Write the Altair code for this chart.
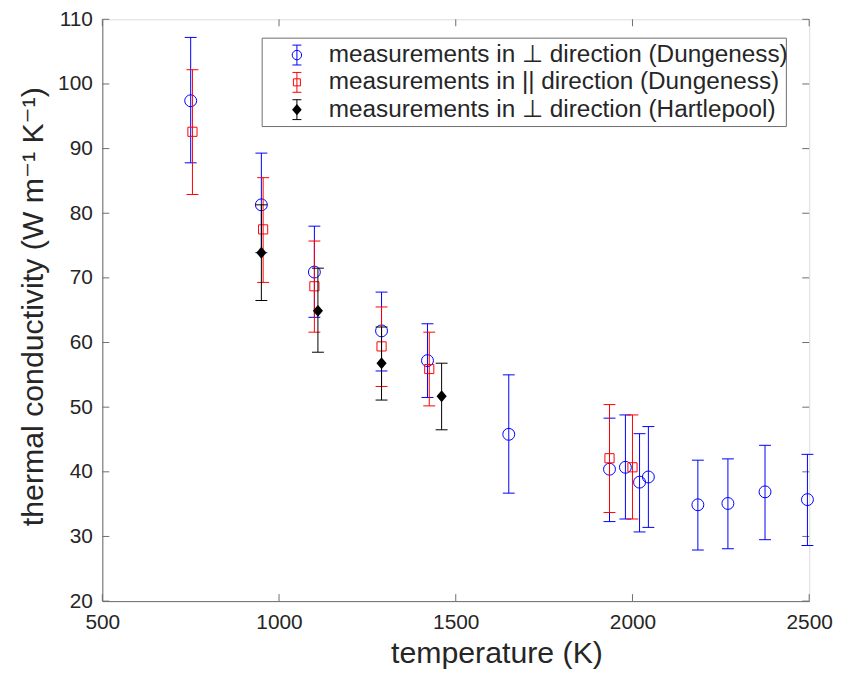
import altair as alt
import pandas as pd

# ---- data ----
# measurements in ⊥ direction (Dungeness)
t_perp_d = [750, 950, 1100, 1290, 1420, 1650, 1935, 1980, 2020, 2045, 2185, 2270, 2375, 2495]
k_perp_d = [97.4, 81.3, 70.9, 61.8, 57.2, 45.8, 40.4, 40.7, 38.4, 39.2, 34.9, 35.1, 36.9, 35.7]
lo_perp_d = [87.8, 73.9, 63.9, 55.6, 51.5, 36.7, 32.3, 32.7, 30.7, 31.4, 27.9, 28.1, 29.5, 28.6]
hi_perp_d = [107.2, 89.3, 78.0, 67.8, 62.9, 55.0, 48.3, 48.8, 45.9, 47.0, 41.8, 42.0, 44.1, 42.7]

# measurements in || direction (Dungeness)
t_par_d = [755, 955, 1100, 1290, 1425, 1935, 2000]
k_par_d = [92.6, 77.5, 68.7, 59.4, 55.9, 42.1, 40.7]
lo_par_d = [82.9, 69.3, 61.6, 53.2, 50.2, 33.7, 32.7]
hi_par_d = [102.2, 85.5, 75.7, 65.5, 61.6, 50.4, 48.8]

# measurements in ⊥ direction (Hartlepool)
t_perp_h = [950, 1110, 1290, 1460]
k_perp_h = [73.9, 64.9, 56.8, 51.7]
lo_perp_h = [66.5, 58.5, 51.1, 46.5]
hi_perp_h = [81.3, 71.5, 62.4, 56.8]

series_labels = [
    "measurements in \u22a5 direction (Dungeness)",
    "measurements in || direction (Dungeness)",
    "measurements in \u22a5 direction (Hartlepool)",
]
series_colors = ["#0000ff", "#ff0000", "#000000"]

x_ticks = [500, 1000, 1500, 2000, 2500]
y_ticks = [20, 30, 40, 50, 60, 70, 80, 90, 100, 110]

# ---- styling ----
FONT = "Liberation Sans, Arial, DejaVu Sans, sans-serif"
AX = "#6e6e6e"
TXT = "#262626"
W, H = 712, 586

xscale = alt.Scale(domain=[500, 2500], nice=False, zero=False)
yscale = alt.Scale(domain=[20, 110], nice=False, zero=False)

xaxis = alt.Axis(title="temperature (K)", values=x_ticks, format="d", grid=False,
                 ticks=False, tickSize=0, labelPadding=11, labelFontSize=21,
                 labelFont=FONT, labelColor=TXT, titleFont=FONT, titleFontSize=30.5,
                 titleFontWeight="normal", titleColor=TXT, titleX=397, titleY=62,
                 titleBaseline="alphabetic", domainColor=AX, labelFlush=False)
yaxis = alt.Axis(title="thermal conductivity (W m\u207b\u00b9 K\u207b\u00b9)", values=y_ticks,
                 format="d", grid=False, ticks=False, tickSize=0, labelPadding=10,
                 labelFontSize=21, labelFont=FONT, labelColor=TXT, titleFont=FONT,
                 titleFontSize=30.5, titleFontWeight="normal", titleColor=TXT,
                 titleX=-60, titleY=289, titleBaseline="alphabetic", domainColor=AX,
                 labelFlush=False)

X = alt.X("T:Q", scale=xscale, axis=xaxis)


def Y(field):
    return alt.Y(field, type="quantitative", scale=yscale, axis=yaxis)


# inward tick marks on all four sides
xt = alt.Chart(pd.DataFrame({"T": x_ticks}))
yt = alt.Chart(pd.DataFrame({"k": y_ticks}))
tick_layers = [
    xt.mark_rule(color=AX).encode(x=X, y=alt.value(H), y2=alt.value(H - 7)),
    xt.mark_rule(color=AX).encode(x=X, y=alt.value(0), y2=alt.value(7)),
    yt.mark_rule(color=AX).encode(y=Y("k"), x=alt.value(0), x2=alt.value(7)),
    yt.mark_rule(color=AX).encode(y=Y("k"), x=alt.value(W), x2=alt.value(W - 7)),
]

DIAMOND = "M-0.85,0L0,-1L0.85,0L0,1Z"


def series(t, k, lo, hi, color, shape, size, filled):
    df = pd.DataFrame({"T": t, "k": k, "lo": lo, "hi": hi})
    b = alt.Chart(df)
    return [
        b.mark_rule(color=color, strokeWidth=1).encode(x=X, y=Y("lo"), y2="hi:Q"),
        b.mark_point(shape="stroke", size=144, color=color, strokeWidth=1, opacity=1).encode(x=X, y=Y("lo")),
        b.mark_point(shape="stroke", size=144, color=color, strokeWidth=1, opacity=1).encode(x=X, y=Y("hi")),
        b.mark_point(shape=shape, size=size, color=color, filled=filled, strokeWidth=1,
                     opacity=1).encode(x=X, y=Y("k")),
    ]


data_layers = (
    series(t_perp_d, k_perp_d, lo_perp_d, hi_perp_d, series_colors[0], "circle", 144, False)
    + series(t_par_d, k_par_d, lo_par_d, hi_par_d, series_colors[1], "square", 85, False)
    + series(t_perp_h, k_perp_h, lo_perp_h, hi_perp_h, series_colors[2], DIAMOND, 144, True)
)

# legend box drawn inside the plot
one = alt.Chart(pd.DataFrame({"a": [0]}))
legend_layers = [
    one.mark_rect(fill="white", stroke=AX, strokeWidth=1).encode(
        x=alt.value(161), x2=alt.value(689), y=alt.value(19), y2=alt.value(108))
]
EBAR = "M0,-1L0,1M-0.45,-1L0.45,-1M-0.45,1L0.45,1"
leg_shapes = [("circle", 90, False), ("square", 50, False), (DIAMOND, 130, True)]
for i, (lab, col) in enumerate(zip(series_labels, series_colors)):
    yy = 36 + i * 27.5
    shp, sz, fl = leg_shapes[i]
    legend_layers += [
        one.mark_point(shape=EBAR, size=400, color=col, strokeWidth=1, opacity=1).encode(
            x=alt.value(196), y=alt.value(yy)),
        one.mark_point(shape=shp, size=sz, color=col, filled=fl, strokeWidth=1, opacity=1).encode(
            x=alt.value(196), y=alt.value(yy)),
        one.mark_text(text=lab, font=FONT, fontSize=24.5, color=TXT, align="left",
                      baseline="middle").encode(x=alt.value(228), y=alt.value(yy)),
    ]

chart = alt.layer(*tick_layers, *data_layers, *legend_layers).properties(
    width=W, height=H,
    autosize=alt.AutoSizeParams(type="none"),
    padding={"left": 95, "top": 9, "right": 28, "bottom": 66},
).configure_view(stroke=AX, strokeWidth=1).configure(background="white")

chart.save("out.html", embed_options={"renderer": "svg", "actions": False})
